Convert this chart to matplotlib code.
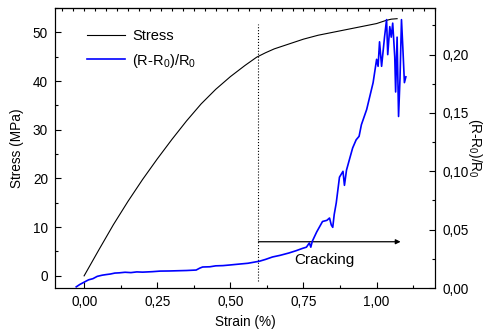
import matplotlib
matplotlib.use("Agg")
import matplotlib.pyplot as plt
from matplotlib.ticker import MultipleLocator, FuncFormatter

plt.rcParams['font.family'] = ['Liberation Sans', 'DejaVu Sans']
plt.rcParams['font.size'] = 9.8
plt.rcParams['mathtext.fontset'] = 'custom'
plt.rcParams['mathtext.rm'] = 'Liberation Sans'

# stress-strain curve (left axis)
strain_s = [0.0, 0.05, 0.1, 0.15, 0.2, 0.25, 0.3, 0.35, 0.4, 0.45, 0.5, 0.55,
            0.59, 0.62, 0.65, 0.7, 0.75, 0.8, 0.85, 0.9, 0.95, 1.0, 1.03, 1.05, 1.07]
stress = [0.0, 5.3, 10.5, 15.3, 19.8, 24.0, 28.0, 31.8, 35.3, 38.3, 40.9, 43.2,
          44.9, 45.8, 46.6, 47.6, 48.6, 49.4, 50.0, 50.6, 51.2, 51.8, 52.4, 52.7, 52.8]

# relative resistance change (right axis)
strain_r = [-0.027, -0.015, 0.0, 0.015, 0.03, 0.045, 0.062, 0.075, 0.09, 0.105,
            0.12, 0.14, 0.16, 0.18, 0.2, 0.233, 0.26, 0.291, 0.32, 0.35,
            0.383, 0.395, 0.405, 0.43, 0.45, 0.475, 0.497, 0.53, 0.56, 0.6,
            0.62, 0.644, 0.67, 0.70, 0.725, 0.747, 0.76, 0.77, 0.775, 0.78,
            0.795, 0.815, 0.83, 0.839, 0.845, 0.85, 0.855, 0.862, 0.868, 0.873,
            0.885, 0.89, 0.897, 0.908, 0.918, 0.93, 0.94, 0.948, 0.966, 0.988,
            1.0, 1.005, 1.01, 1.017, 1.027, 1.034, 1.038, 1.045, 1.05, 1.055,
            1.062, 1.065, 1.07, 1.075, 1.08, 1.085, 1.09, 1.095, 1.1]
dr = [0.001, 0.003, 0.005, 0.007, 0.008, 0.010, 0.011, 0.0115, 0.012, 0.0128,
      0.013, 0.0135, 0.0132, 0.0138, 0.0136, 0.014, 0.0145, 0.0146, 0.0148, 0.015,
      0.0154, 0.017, 0.018, 0.0182, 0.019, 0.0192, 0.0197, 0.0205, 0.0212, 0.023,
      0.0245, 0.0266, 0.028, 0.030, 0.032, 0.034, 0.035, 0.0386, 0.035, 0.040,
      0.048, 0.057, 0.058, 0.060, 0.054, 0.052, 0.063, 0.073, 0.085, 0.095,
      0.100, 0.088, 0.101, 0.111, 0.120, 0.127, 0.130, 0.140, 0.153, 0.176,
      0.196, 0.190, 0.211, 0.190, 0.215, 0.230, 0.200, 0.224, 0.215, 0.227,
      0.198, 0.168, 0.215, 0.147, 0.180, 0.230, 0.204, 0.176, 0.181]

crack_start = 0.596
crack_end = 1.082

comma = FuncFormatter(lambda v, p: f'{v:.2f}'.replace('.', ','))

fig = plt.figure(figsize=(4.9, 3.32), dpi=100)
ax = fig.add_axes([0.112, 0.1325, 0.776, 0.8435])
ax2 = ax.twinx()

l1, = ax.plot(strain_s, stress, color='black', lw=0.8, label='Stress')
l2, = ax2.plot(strain_r, dr, color='#0000ff', lw=1.2, label='(R-R$_0$)/R$_0$')

ax.plot([crack_start, crack_start], [-1.0, 51.8], color='black', ls=':', lw=0.8)
ax.annotate('', xy=(crack_end, 7.0), xytext=(crack_start, 7.0),
            arrowprops=dict(arrowstyle='-|>', color='black', lw=0.9,
                            mutation_scale=7, shrinkA=0, shrinkB=0))
ax.text(0.82, 3.3, 'Cracking', ha='center', va='center', fontsize=11)

ax.set_xlim(-0.10, 1.20)
ax.set_ylim(-2.5, 55)
ax2.set_ylim(0, 0.24)

ax.xaxis.set_major_locator(MultipleLocator(0.25))
ax.xaxis.set_minor_locator(MultipleLocator(0.125))
ax.xaxis.set_major_formatter(comma)
ax.yaxis.set_major_locator(MultipleLocator(10))
ax.yaxis.set_minor_locator(MultipleLocator(5))
ax2.yaxis.set_major_locator(MultipleLocator(0.05))
ax2.yaxis.set_minor_locator(MultipleLocator(0.025))
ax2.yaxis.set_major_formatter(comma)

ax.tick_params(which='major', direction='in', length=4, width=0.8, pad=5)
ax.tick_params(which='minor', direction='in', length=2, width=0.8)
ax2.tick_params(which='major', direction='in', length=4, width=0.8, pad=5)
ax2.tick_params(which='minor', direction='in', length=2, width=0.8)

# small ticks along the top edge
top = ax.secondary_xaxis('top')
top.xaxis.set_major_locator(MultipleLocator(0.0375))
top.tick_params(direction='in', length=2, width=0.8, labeltop=False)

ax.set_xlabel('Strain (%)', labelpad=4)
ax.set_ylabel('Stress (MPa)', labelpad=6)
ax2.set_ylabel('(R-R$_0$)/R$_0$', rotation=270, labelpad=11)

ax.legend(handles=[l1, l2], loc='upper left', bbox_to_anchor=(0.05, 0.97),
          frameon=False, handlelength=2.6, fontsize=10.5, labelspacing=0.55,
          handletextpad=0.5)

fig.savefig('out.png', dpi=100)
